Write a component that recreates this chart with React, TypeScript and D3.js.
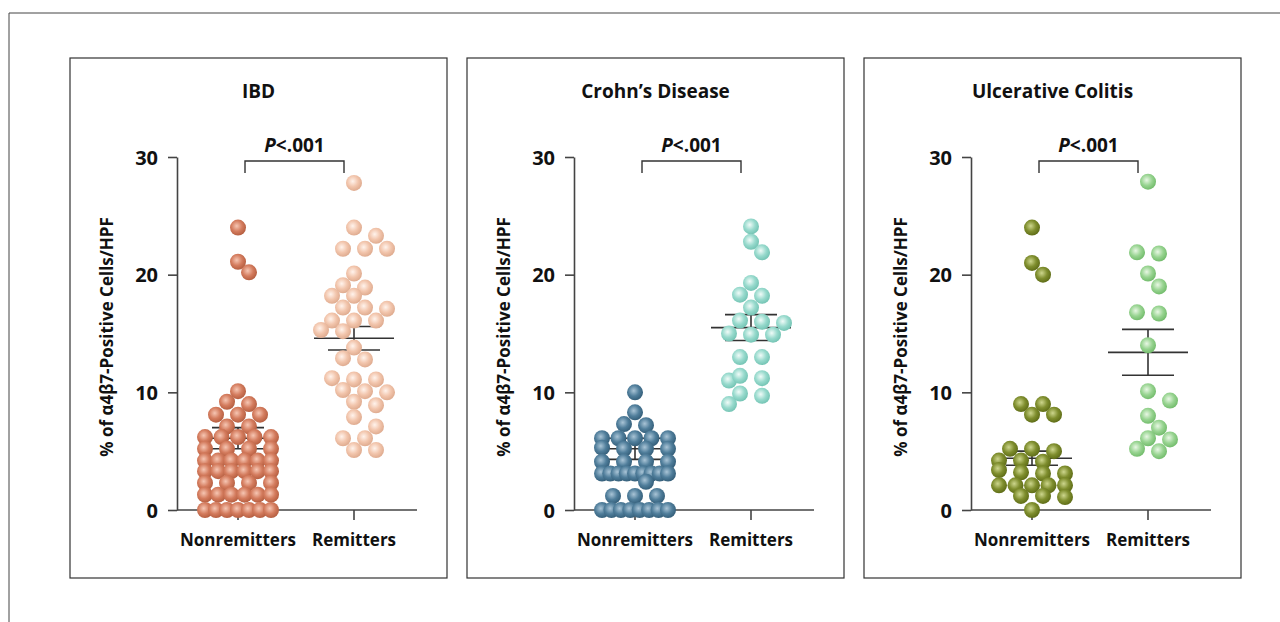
import React, { useEffect, useRef } from 'react'
import * as d3 from 'd3'

const W = 1280
const H = 622

// chart content
const panelTitles = ['IBD', 'Crohn\u2019s Disease', 'Ulcerative Colitis']
const groups = ['Nonremitters', 'Remitters']
const yTicks = [0, 10, 20, 30]
const yLabel = '% of \u03b14\u03b27-Positive Cells/HPF'

// values (% positive cells per HPF)
const ibdNonremitters = [24.0, 21.1, 20.2, 10.1, 9.0, 9.2, 8.1, 8.1, 8.1, 7.1, 7.1,
  6.2, 6.2, 6.2, 6.2, 6.2, 5.2, 5.2, 5.2, 5.2, 4.2, 4.2, 4.2, 4.2, 4.2, 4.2,
  3.3, 3.3, 3.3, 3.3, 3.3, 3.3, 2.3, 2.3, 2.3, 2.3, 1.3, 1.3, 1.3, 1.3, 1.3, 1.3,
  0, 0, 0, 0, 0, 0, 0]
const ibdRemitters = [27.8, 24.0, 23.3, 22.2, 22.2, 22.2, 20.1, 18.9, 19.1, 18.2, 18.2,
  17.2, 17.1, 17.2, 16.1, 16.1, 16.1, 15.3, 15.2, 13.8, 12.9, 12.8, 11.2, 11.1, 11.1,
  10.2, 10.0, 10.1, 9.2, 8.9, 7.9, 7.1, 6.1, 6.1, 5.1, 5.1]
const cdNonremitters = [10.0, 8.3, 7.3, 7.2, 6.1, 6.1, 6.1, 6.1, 6.1, 5.3, 5.2, 5.2, 5.2,
  4.1, 4.1, 4.1, 4.1, 3.1, 3.1, 3.1, 3.1, 3.1, 3.1, 3.1, 3.1, 3.1, 2.4, 1.2, 1.2, 1.2,
  0, 0, 0, 0, 0, 0, 0, 0]
const cdRemitters = [24.1, 22.8, 21.9, 19.3, 18.3, 18.2, 17.2, 16.0, 15.9, 16.1, 14.9,
  14.9, 15.0, 13.0, 13.0, 11.2, 11.0, 11.4, 9.9, 9.7, 9.0]
const ucNonremitters = [24.0, 21.0, 20.0, 9.0, 9.0, 8.1, 8.1, 5.0, 5.2, 5.2, 4.2, 4.2, 4.1,
  3.4, 3.2, 3.1, 3.1, 2.1, 2.1, 2.1, 2.1, 2.1, 1.2, 1.1, 1.2, 0]
const ucRemitters = [27.9, 21.9, 21.8, 20.1, 19.0, 16.8, 16.7, 14.0, 10.1, 9.3, 8.0, 7.0,
  6.1, 6.0, 5.0, 5.2]

// mean and SEM per group [Nonremitters, Remitters]
const ibdMean = [6.1, 14.6]
const ibdSem = [0.9, 1.0]
const cdMean = [5.2, 15.5]
const cdSem = [0.9, 1.1]
const ucMean = [4.4, 13.4]
const ucSem = [0.6, 1.95]

const pValues = ['<.001', '<.001', '<.001']

const panelData = [
  { values: [ibdNonremitters, ibdRemitters], mean: ibdMean, sem: ibdSem },
  { values: [cdNonremitters, cdRemitters], mean: cdMean, sem: cdSem },
  { values: [ucNonremitters, ucRemitters], mean: ucMean, sem: ucSem },
]

// [light, base, dark] per panel / group
const colors = [
  [['#f6c6b3', '#d47c5e', '#b45d3f'], ['#fff3ec', '#f2c5ac', '#deaa8e']],
  [['#a9c4d6', '#507e9b', '#335d78'], ['#f0fbf8', '#98dacd', '#72c3b3']],
  [['#cdd68d', '#7f8e2e', '#5d6b16'], ['#e8f7e4', '#98d491', '#71bb6a']],
]

const FONT = "'Open Sans', sans-serif"
const R = 8

// GraphPad-like scatter layout: rows of near-equal values spread sideways
function swarm(values: number[], y: (v: number) => number) {
  const idx = values.map((_, i) => i).sort((a, b) => values[b] - values[a])
  const rows: number[][] = []
  idx.forEach(i => {
    const last = rows[rows.length - 1]
    if (last && values[last[0]] - values[i] <= 0.35) last.push(i)
    else rows.push([i])
  })
  const out: number[] = new Array(values.length).fill(0)
  const placed: { x: number, y: number }[] = []
  rows.forEach(row => {
    const n = row.length
    const s = n > 1 ? Math.min(22, 66 / (n - 1)) : 22
    const base = row.map((_, k) => (k - (n - 1) / 2) * s)
    let best = 0
    let bestCost = Infinity
    ;[0, s / 2, -s / 2, s, -s].forEach(sh => {
      if (Math.abs(sh) + (n - 1) * s / 2 > 36) return
      let cost = 0
      row.forEach((i, k) => {
        const px = base[k] + sh
        const py = y(values[i])
        placed.forEach(p => {
          const d = Math.hypot(p.x - px, p.y - py)
          if (d < 15) cost += 15 - d
        })
      })
      if (cost < bestCost - 0.01) { bestCost = cost; best = sh }
    })
    row.forEach((i, k) => {
      out[i] = base[k] + best
      placed.push({ x: out[i], y: y(values[i]) })
    })
  })
  return out
}

export default function App() {
  const ref = useRef<SVGSVGElement>(null)

  useEffect(() => {
    const svg = d3.select(ref.current)
    svg.selectAll('*').remove()

    // outer frame (open on right and bottom)
    svg.append('path')
      .attr('d', `M9,${H}V13H${W}`)
      .attr('fill', 'none')
      .attr('stroke', '#444')
      .attr('stroke-width', 1)

    const defs = svg.append('defs')
    colors.forEach((pc, p) => pc.forEach((c, k) => {
      const g = defs.append('radialGradient')
        .attr('id', `ball${p}${k}`)
        .attr('cx', '42%').attr('cy', '40%').attr('r', '62%')
      g.append('stop').attr('offset', '0%').attr('stop-color', c[0])
      g.append('stop').attr('offset', '55%').attr('stop-color', c[1])
      g.append('stop').attr('offset', '100%').attr('stop-color', c[2])
    }))

    const y = d3.scaleLinear().domain([0, 30]).range([510, 157])

    panelData.forEach((pd, p) => {
      const L = 70 + p * 397
      const axisX = L + 107
      const g = svg.append('g')

      g.append('rect')
        .attr('x', L).attr('y', 58)
        .attr('width', 377).attr('height', 520)
        .attr('fill', 'none')
        .attr('stroke', '#333')
        .attr('stroke-width', 1.2)

      g.append('text')
        .attr('x', L + 188.5).attr('y', 98)
        .attr('text-anchor', 'middle')
        .attr('font-family', FONT).attr('font-weight', 700).attr('font-size', 19)
        .attr('fill', '#111')
        .text(panelTitles[p])

      const x = d3.scalePoint<string>().domain(groups).range([L + 168, L + 284])

      // y axis
      const yAxis = g.append('g')
        .attr('transform', `translate(${axisX},0)`)
        .call(d3.axisLeft(y).tickValues(yTicks).tickSize(9).tickSizeOuter(0).tickPadding(10))
      yAxis.select('.domain').attr('stroke', '#444').attr('stroke-width', 1.6)
      yAxis.selectAll('.tick line').attr('stroke', '#444').attr('stroke-width', 1.6)
      yAxis.selectAll('.tick text')
        .attr('font-family', FONT).attr('font-weight', 700).attr('font-size', 20)
        .attr('fill', '#111').attr('dy', '0.36em')

      // x axis
      g.append('line')
        .attr('x1', axisX).attr('x2', L + 347)
        .attr('y1', y(0)).attr('y2', y(0))
        .attr('stroke', '#444').attr('stroke-width', 1.6)
      groups.forEach(gr => {
        g.append('line')
          .attr('x1', x(gr)!).attr('x2', x(gr)!)
          .attr('y1', y(0)).attr('y2', y(0) + 10)
          .attr('stroke', '#444').attr('stroke-width', 1.6)
        g.append('text')
          .attr('x', x(gr)!).attr('y', 546)
          .attr('text-anchor', 'middle')
          .attr('font-family', FONT).attr('font-weight', 700).attr('font-size', 17)
          .attr('fill', '#111')
          .text(gr)
      })

      g.append('text')
        .attr('transform', `translate(${L + 43},337) rotate(-90)`)
        .attr('text-anchor', 'middle')
        .attr('font-family', FONT).attr('font-weight', 700).attr('font-size', 17)
        .attr('fill', '#111')
        .text(yLabel)

      // significance bracket
      const bx1 = x(groups[0])! + 7
      const bx2 = x(groups[1])! - 10
      g.append('path')
        .attr('d', `M${bx1},173V161H${bx2}V173`)
        .attr('fill', 'none')
        .attr('stroke', '#333').attr('stroke-width', 1.4)
      const pt = g.append('text')
        .attr('x', (bx1 + bx2) / 2).attr('y', 152)
        .attr('text-anchor', 'middle')
        .attr('font-family', FONT).attr('font-weight', 700).attr('font-size', 19)
        .attr('fill', '#111')
      pt.append('tspan').attr('font-style', 'italic').text('P')
      pt.append('tspan').text(pValues[p])

      // mean +/- SEM (drawn under the dots)
      groups.forEach((gr, k) => {
        const cx = x(gr)!
        const m = pd.mean[k]
        const s = pd.sem[k]
        g.append('line')
          .attr('x1', cx - 40).attr('x2', cx + 40)
          .attr('y1', y(m)).attr('y2', y(m))
          .attr('stroke', '#333').attr('stroke-width', 1.6)
        g.append('line')
          .attr('x1', cx).attr('x2', cx)
          .attr('y1', y(m - s)).attr('y2', y(m + s))
          .attr('stroke', '#333').attr('stroke-width', 1.6)
        ;[m - s, m + s].forEach(v => {
          g.append('line')
            .attr('x1', cx - 26).attr('x2', cx + 26)
            .attr('y1', y(v)).attr('y2', y(v))
            .attr('stroke', '#333').attr('stroke-width', 1.6)
        })
      })

      // dots
      groups.forEach((gr, k) => {
        const vals = pd.values[k]
        const offs = swarm(vals, y)
        g.append('g').selectAll('circle')
          .data(vals)
          .enter()
          .append('circle')
          .attr('cx', (d, i) => x(gr)! + offs[i])
          .attr('cy', d => y(d))
          .attr('r', R)
          .attr('fill', `url(#ball${p}${k})`)
      })
    })
  }, [])

  return (
    <svg
      ref={ref}
      width={W}
      height={H}
      style={{ position: 'absolute', left: 0, top: 0, display: 'block', background: '#fff' }}
    />
  )
}
